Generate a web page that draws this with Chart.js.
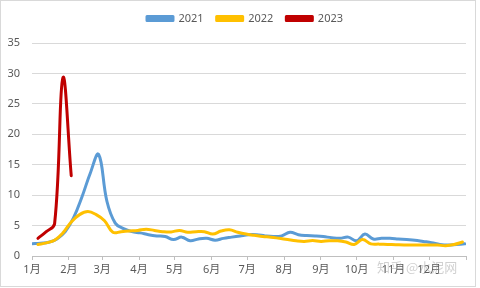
<!DOCTYPE html>
<html>
<head>
<meta charset="utf-8">
<script src="https://cdn.jsdelivr.net/npm/chart.js@4/dist/chart.umd.min.js"></script>
<style>
  html, body { margin: 0; padding: 0; background: #fff; }
  #wrap { width: 480px; height: 288px; position: relative; }
</style>
</head>
<body>
<div id="wrap"><canvas id="chart" width="480" height="288"></canvas></div>
<script>
// weekly values
const years = ['2021', '2022', '2023'];
const startDay = [0, 5, 5];
const v2021 = [2.0, 2.1, 2.25, 2.8, 4.0, 6.3, 9.7, 13.6, 16.7, 9.0, 5.4, 4.5, 4.0, 3.8, 3.5, 3.3, 3.2, 2.7, 3.1, 2.5, 2.8, 2.9, 2.6, 2.9, 3.1, 3.3, 3.5, 3.5, 3.3, 3.2, 3.3, 3.9, 3.5, 3.35, 3.3, 3.2, 3.0, 2.9, 3.1, 2.5, 3.6, 2.8, 2.9, 2.9, 2.8, 2.7, 2.6, 2.4, 2.2, 1.9, 1.8, 1.9, 2.0];
const v2022 = [1.9, 2.15, 2.6, 3.8, 5.6, 6.8, 7.3, 6.8, 5.8, 3.9, 4.0, 4.1, 4.2, 4.4, 4.2, 4.0, 3.95, 4.2, 3.9, 4.0, 4.0, 3.6, 4.1, 4.3, 3.9, 3.6, 3.4, 3.2, 3.1, 2.9, 2.7, 2.5, 2.4, 2.55, 2.4, 2.5, 2.5, 2.3, 1.9, 2.7, 2.0, 1.95, 1.9, 1.85, 1.8, 1.8, 1.8, 1.8, 1.8, 1.7, 1.9, 2.3];
const v2023 = [2.9, 4.0, 5.3, 29.3, 13.2];
const seriesValues = [v2021, v2022, v2023];
const colors = ['#5B9BD5', '#FFC000', '#C00000'];
const monthStarts = [0, 31, 59, 90, 120, 151, 181, 212, 243, 273, 304, 334, 365];
const monthLabels = ['1月', '2月', '3月', '4月', '5月', '6月', '7月', '8月', '9月', '10月', '11月', '12月', ''];
const yTicks = [0, 5, 10, 15, 20, 25, 30, 35];

const fontFamily = '"Noto Sans", "Noto Sans CJK SC", sans-serif';

const datasets = years.map((year, i) => ({
    label: year,
    data: seriesValues[i].map((v, w) => ({x: startDay[i] + 7 * w, y: v})),
    borderColor: colors[i],
    backgroundColor: colors[i],
    borderWidth: 3,
    pointRadius: 0,
    tension: 0.4,
    borderCapStyle: 'round',
    borderJoinStyle: 'round',
    order: years.length - i
}));

const frame = {
    id: 'frame',
    beforeInit(chart) {
        const fit = chart.legend.fit;
        chart.legend.fit = function() {
            fit.call(this);
            this.height = 43;
        };
    },
    afterLayout(chart) {
        // legend sits a little right of centre in the original
        chart.legend.left += 12;
        chart.legend.right += 12;
    },
    afterDraw(chart) {
        const ctx = chart.ctx;
        ctx.save();
        ctx.strokeStyle = '#d9d9d9';
        ctx.lineWidth = 1;
        ctx.strokeRect(0.5, 0.5, 475, 286);
        ctx.fillStyle = 'rgba(150,150,150,0.45)';
        ctx.font = '13px "Noto Sans CJK SC"';
        ctx.textBaseline = 'middle';
        ctx.fillText('知乎 @水泥网', 377, 267);
        ctx.restore();
    }
};

new Chart(document.getElementById('chart'), {
    type: 'line',
    data: {datasets: datasets},
    plugins: [frame],
    options: {
        responsive: false,
        animation: false,
        layout: {padding: {left: 0, right: 14, top: 0, bottom: 2}},
        plugins: {
            legend: {
                display: true,
                position: 'top',
                labels: {
                    boxWidth: 26,
                    boxHeight: 4,
                    padding: 13,
                    color: '#595959',
                    font: {family: fontFamily, size: 11},
                    sort: (a, b) => a.datasetIndex - b.datasetIndex
                }
            },
            tooltip: {enabled: false}
        },
        scales: {
            x: {
                type: 'linear',
                min: 0,
                max: 365,
                afterBuildTicks: scale => { scale.ticks = monthStarts.map(v => ({value: v})); },
                afterFit: scale => { scale.height = 30; },
                grid: {drawOnChartArea: false, drawTicks: true, tickLength: 4, color: '#bfbfbf'},
                border: {color: '#bfbfbf'},
                ticks: {
                    autoSkip: false,
                    maxRotation: 0,
                    padding: 3,
                    color: '#595959',
                    font: {family: fontFamily, size: 11},
                    callback: (value) => monthLabels[monthStarts.indexOf(value)]
                }
            },
            y: {
                min: 0,
                max: 35,
                afterBuildTicks: scale => { scale.ticks = yTicks.map(v => ({value: v})); },
                afterFit: scale => { scale.width = 32; },
                grid: {color: '#d9d9d9', drawTicks: false},
                border: {display: false},
                ticks: {
                    padding: 12,
                    color: '#595959',
                    font: {family: fontFamily, size: 11}
                }
            }
        }
    }
});
</script>
</body>
</html>
